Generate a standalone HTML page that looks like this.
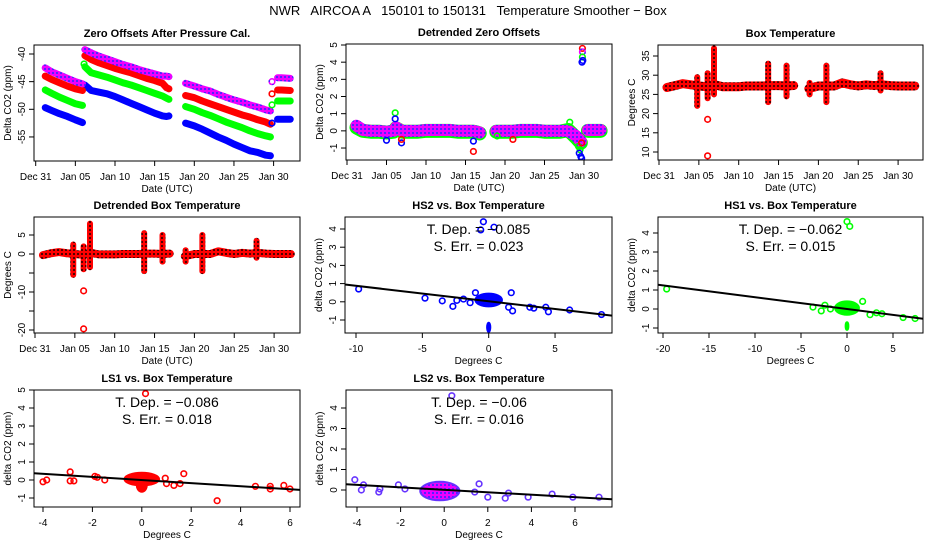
<!DOCTYPE html>
<html><head><meta charset="utf-8"><style>
html,body{margin:0;padding:0;background:#fff}
svg{display:block;font-family:"Liberation Sans",Arial,sans-serif}
</style></head><body>
<svg id="chart" width="936" height="540" viewBox="0 0 936 540" xmlns="http://www.w3.org/2000/svg">
<defs>
<pattern id="patPurple" width="4" height="4" patternUnits="userSpaceOnUse"><rect width="4" height="4" fill="#ee00ff"/><rect width="2" height="2" fill="#5522ff"/></pattern>
<pattern id="patRed" width="4" height="4" patternUnits="userSpaceOnUse"><rect width="4" height="4" fill="#ff0000"/><rect x="1" y="1" width="2" height="2" fill="#550000"/></pattern>
</defs>
<text x="468" y="15" text-anchor="middle" font-size="13" style="white-space:pre" xml:space="preserve">NWR   AIRCOA A   150101 to 150131   Temperature Smoother − Box</text>
</svg>
<script>
// ---- shared time segments (days since Dec 31) ----
const tSeg1=[1.2,2,3,4,5,5.9];
const tSeg2=[6.2,7,8,9,10,11,12,13,14,15,16,16.5,16.8];
const tSeg3=[18.9,20,21,22,23,24,25,26,27,28,29,29.6];
const tSeg4=[30.5,31,32.1];
// ---- panel 1: zero offsets ----
const purple1=[[-42.5,-43.2,-43.8,-44.4,-45,-45.4],[-39.2,-39.8,-40.4,-40.9,-41.4,-41.9,-42.3,-42.8,-43.2,-43.6,-44,-44,-44.1],[-45.3,-45.8,-46.3,-46.7,-47.3,-47.8,-48.3,-48.7,-49.2,-49.6,-50.1,-50.3],[-44.3,-44.3,-44.4]];
const red1=[[-44,-44.6,-45.2,-45.8,-46.3,-46.6],[-40.3,-41,-41.6,-42.1,-42.6,-43,-43.4,-43.9,-44.4,-44.8,-45.3,-46.1,-46.3],[-47.5,-47.9,-48.5,-49,-49.5,-50,-50.5,-51,-51.4,-51.9,-52.3,-52.7],[-46.5,-46.5,-46.6]];
const green1=[[-46.5,-47.1,-47.8,-48.4,-49,-49.3],[-42.3,-43.4,-43.8,-44.2,-44.7,-45.2,-45.6,-46.1,-46.6,-47.1,-47.6,-48,-48.2],[-49.5,-50,-50.6,-51.1,-51.7,-52.3,-52.8,-53.3,-53.9,-54.4,-54.8,-55],[-48.5,-48.5,-48.5]];
const blue1=[[-49.7,-50.2,-50.8,-51.3,-51.9,-52.4],[-45.6,-46.6,-46.9,-47.2,-47.7,-48.3,-48.9,-49.5,-50.1,-50.7,-51.2,-51.3,-51.2],[-52.5,-53,-53.6,-54.3,-55,-55.6,-56.3,-56.9,-57.5,-57.8,-58.3,-58.4],[-51.8,-51.8,-51.8]];
const p1Extra=[[29.8,-45,'purple'],[29.8,-47.2,'red'],[29.8,-49.2,'green'],[29.8,-52.5,'blue'],[6.1,-41.8,'green']];
// ---- panel 2: detrended zero offsets ----
const purple2=[[0.3,0.05,0,0,-0.05,0],[0.2,0,0,0,0.05,0.05,0.05,0.05,0,0,0,-0.05,-0.1],[0,0,0,0.05,0.05,0.05,0,0,0,0,-0.3,-0.6],[0.05,0.05,0.05]];
const green2=[[0.2,0,-0.05,-0.05,-0.1,-0.05],[0.15,-0.05,-0.05,-0.05,0,0,0,0,-0.05,-0.05,-0.05,-0.1,-0.15],[-0.05,-0.05,-0.05,0,0,0,-0.05,-0.05,-0.05,0.05,-0.4,-0.7],[0,0,0]];
const p2Out=[[6.1,1.05,'green'],[6.1,0.7,'blue'],[6.9,-0.7,'blue'],[6.9,-0.5,'red'],[5,-0.55,'blue'],[16,-1.2,'red'],[16,-0.6,'blue'],[21,-0.5,'red'],[19,-0.3,'green'],[28.2,0.5,'green'],[29.3,-0.9,'green'],[29.5,-1.1,'green'],[29.4,-1.3,'blue'],[29.6,-1.5,'blue'],[29.7,-1.6,'blue'],[29.7,-0.7,'red'],[29.8,4.8,'red'],[29.8,4.6,'purple'],[29.8,4.3,'green'],[29.75,4.0,'blue'],[29.85,4.1,'blue']];
// ---- panel 3: box temperature ----
const tBandA=[1,2,3,4,5,6,7,8,9,10,11,12,13,14,15,16,16.9];
const tBandB=[18.8,20,21,22,23,24,25,26,27,28,29,30,31,32.1];
const box3A=[26.8,27.3,27.8,27.5,27.2,27,27.5,27,27,27,27.2,27.2,27.2,27.3,27.3,27.2,27.3];
const box3B=[26.5,27.2,27.2,27.2,28,27.5,27.2,27.5,27.3,27.5,27.3,27.2,27.2,27.2];
const spike3=[[4.8,22,29.5],[6.1,24,30.5],[6.9,25,37],[13.7,23,33],[16,24.5,32.5],[18.9,25,28],[21,23,32.5],[27.8,26,30.5]];
const pts3=[[6.1,18.5],[6.1,9]];
// ---- panel 4: detrended box temperature ----
const box4A=[-0.3,0.2,0.5,0.2,0,-0.2,0.3,-0.1,-0.1,-0.1,0,0,0,0.1,0.1,0,0.1];
const box4B=[-0.6,0,0,0,0.7,0.3,0,0.3,0.1,0.3,0.1,0,0,0];
const spike4=[[4.8,-5.5,2.5],[6.1,-4,2],[6.9,-3.5,8],[13.7,-4.5,5.5],[16,-2,5],[18.9,-2,1],[21,-4.5,5],[27.8,-1,3.5]];
const pts4=[[6.1,-9.7],[6.1,-19.7]];
// ---- scatter panels ----
const hs2Pts=[[-9.8,0.7],[-4.8,0.2],[-3.5,0.05],[-2.7,-0.25],[-2.4,0.08],[-1.9,0.15],[-1.4,-0.05],[-1,0.5],[1.5,-0.3],[1.7,0.5],[1.8,-0.5],[3.1,-0.3],[3.4,-0.35],[4.3,-0.3],[4.5,-0.55],[6.1,-0.45],[8.5,-0.7],[-0.6,3.95],[-0.4,4.4],[0.4,4.1]];
const hs2Blobs=[[0,0.1,1.0,0.35],[0,-1.4,0.12,0.25]];
const hs2Fit=[-0.085,0.03];
const hs1Pts=[[-19.6,1.05],[-3.7,0.1],[-2.8,-0.1],[-2.4,0.2],[-1.8,0],[1.7,0.4],[2.5,-0.3],[3.2,-0.2],[3.8,-0.25],[6.1,-0.45],[7.4,-0.5],[0,4.6],[0.3,4.35]];
const hs1Blobs=[[0,0.05,1.3,0.35],[0,-0.9,0.15,0.2]];
const hs1Fit=[-0.062,0.0];
const ls1Pts=[[-4,-0.1],[-3.85,0],[-2.9,0.45],[-2.9,-0.05],[-2.75,-0.05],[-1.9,0.2],[-1.8,0.15],[-1.5,0],[1.7,0.35],[0.95,0.1],[1,-0.2],[1.3,-0.3],[1.55,-0.2],[3.05,-1.15],[4.6,-0.35],[5.2,-0.35],[5.2,-0.5],[5.75,-0.3],[6,-0.5],[0.15,4.8]];
const ls1Blobs=[[0,0.05,0.7,0.35],[0,-0.3,0.2,0.35]];
const ls1Fit=[-0.086,0.0];
const ls2Pts=[[-4.1,0.5],[-3.8,0],[-3.7,0.25],[-3,-0.1],[-2.95,0.05],[-2.1,0.25],[-1.8,0.05],[1.4,-0.1],[1.6,0.3],[2,-0.35],[2.8,-0.4],[2.95,-0.15],[3.85,-0.35],[4.95,-0.2],[5.9,-0.35],[7.1,-0.35],[0.35,4.6]];
const ls2Blobs=[[-0.2,-0.05,0.9,0.45]];
const ls2Fit=[-0.06,0.01];
const dayTicks=[0,5,10,15,20,25,30];
const dayLabels=['Dec 31','Jan 05','Jan 10','Jan 15','Jan 20','Jan 25','Jan 30'];

const NS='http://www.w3.org/2000/svg';
const svg=document.getElementById('chart');
const COL={purple:'url(#patPurple)',red:'#ff0000',green:'#00ff00',blue:'#0000ff'};
function mk(tag,attrs,parent){const e=document.createElementNS(NS,tag);for(const k in attrs)e.setAttribute(k,attrs[k]);(parent||svg).appendChild(e);return e;}

function panel(o){
  const g=mk('g',{});
  
  
  const [x0,y0,x1,y1]=o.box;
  const t=mk('text',{x:(x0+x1)/2,y:y0-8,'text-anchor':'middle','font-size':'11','font-weight':'bold'},g);
  t.textContent=o.title;
  
  
  const xa=mk('g',{},g);
  
  
  const xp=o.xt.map(o.xs);
  mk('line',{x1:xp[0],x2:xp[xp.length-1],y1:y1,y2:y1,stroke:'#000'},xa);
  o.xt.forEach((v,i)=>{const X=o.xs(v);mk('line',{x1:X,x2:X,y1:y1,y2:y1+5,stroke:'#000'},xa);
    const l=mk('text',{x:X,y:y1+19,'text-anchor':'middle','font-size':'10'},xa);l.textContent=o.xl[i];
    
    });
  const xt=mk('text',{x:(x0+x1)/2,y:y1+31,'text-anchor':'middle','font-size':'10'},g);xt.textContent=o.xlab;
  
  
  const ya=mk('g',{},g);
  
  
  const yp=o.yt.map(o.ys);
  mk('line',{x1:x0,x2:x0,y1:yp[0],y2:yp[yp.length-1],stroke:'#000'},ya);
  o.yt.forEach((v,i)=>{const Y=o.ys(v);mk('line',{x1:x0-5,x2:x0,y1:Y,y2:Y,stroke:'#000'},ya);
    if(o.yl[i]!==''){const l=mk('text',{x:x0-9,y:Y,'text-anchor':'middle','font-size':'10',transform:`rotate(-90 ${x0-9} ${Y})`},ya);l.textContent=o.yl[i];
    
    }});
  const yt=mk('text',{x:x0-23,y:(y0+y1)/2,'text-anchor':'middle','font-size':'10',transform:`rotate(-90 ${x0-23} ${(y0+y1)/2})`},g);yt.textContent=o.ylab;
  
  
  const clipId='c'+o.name;
  const cp=mk('clipPath',{id:clipId},g);mk('rect',{x:x0,y:y0,width:x1-x0,height:y1-y0},cp);
  const plot=mk('g',{'clip-path':`url(#${clipId})`},g);
  
  
  const b=mk('rect',{x:x0,y:y0,width:x1-x0,height:y1-y0,fill:'none',stroke:'#000'},g);
  
  
  return plot;
}
function band(plot,ts,vs,xs,ys,stroke,w,name){
  const p=mk('polyline',{points:ts.map((t,i)=>xs(t)+','+ys(vs[i])).join(' '),fill:'none',stroke:stroke,'stroke-width':w,'stroke-linejoin':'round','stroke-linecap':'round'},plot);
  
  
}
function pt(plot,x,y,c,name){
  const e=mk('circle',{cx:x,cy:y,r:2.8,fill:'none',stroke:COL[c]||c,'stroke-width':1.6},plot);
  
  
}
const SEG=[tSeg1,tSeg2,tSeg3,tSeg4];

// Panel 1
{const xs=d=>35.7+d*7.93, ys=v=>54+(-40-v)*5.53;
 const p=panel({name:'zero-offsets-panel',box:[34,45,300,161],xs,ys,xt:dayTicks,xl:dayLabels,yt:[-55,-50,-45,-40],yl:['-55','-50','-45','-40'],title:'Zero Offsets After Pressure Cal.',xlab:'Date (UTC)',ylab:'Delta CO2 (ppm)'});
 [[blue1,'blue'],[green1,'green'],[red1,'red'],[purple1,'purple']].forEach(([arr,c])=>arr.forEach((s,i)=>band(p,SEG[i],s,xs,ys,COL[c],7,c+'-offset-series')));
 p1Extra.forEach(e=>pt(p,xs(e[0]),ys(e[1]),e[2],'offset-point'));}
// Panel 2
{const xs=d=>347+d*7.9, ys=v=>45+(5-v)*17.17;
 const p=panel({name:'detrended-offsets-panel',box:[346,44,612,160],xs,ys,xt:dayTicks,xl:dayLabels,yt:[-1,0,1,2,3,4,5],yl:['-1','0','1','2','3','4','5'],title:'Detrended Zero Offsets',xlab:'Date (UTC)',ylab:'Delta CO2 (ppm)'});
 green2.forEach((s,i)=>band(p,SEG[i],s,xs,ys,'#00ff00',14,'green-detrended-series'));
 purple2.forEach((s,i)=>band(p,SEG[i],s,xs,ys,'url(#patPurple)',12,'purple-detrended-series'));
 p2Out.forEach(e=>pt(p,xs(e[0]),ys(e[1]),e[2],'detrended-point'));}
// Panel 3
{const xs=d=>659+d*7.97, ys=v=>56+(35-v)*3.84;
 const p=panel({name:'box-temperature-panel',box:[658,45,923,160],xs,ys,xt:dayTicks,xl:dayLabels,yt:[10,15,20,25,30,35],yl:['10','15','20','25','30','35'],title:'Box Temperature',xlab:'Date (UTC)',ylab:'Degrees C'});
 band(p,tBandA,box3A,xs,ys,'url(#patRed)',9,'box-temp-series');band(p,tBandB,box3B,xs,ys,'url(#patRed)',9,'box-temp-series');
 spike3.forEach(s=>{const l=mk('line',{x1:xs(s[0]),x2:xs(s[0]),y1:ys(s[1]),y2:ys(s[2]),stroke:'url(#patRed)','stroke-width':6,'stroke-linecap':'round'},p);
   
   });
 pts3.forEach(e=>pt(p,xs(e[0]),ys(e[1]),'red','temp-outlier'));}
// Panel 4
{const xs=d=>35+d*7.97, ys=v=>235+(5-v)*3.8;
 const p=panel({name:'detrended-box-temperature-panel',box:[34,217,300,333],xs,ys,xt:dayTicks,xl:dayLabels,yt:[-20,-15,-10,-5,0,5],yl:['-20','','-10','','0','5'],title:'Detrended Box Temperature',xlab:'Date (UTC)',ylab:'Degrees C'});
 band(p,tBandA,box4A,xs,ys,'url(#patRed)',8,'detrended-temp-series');band(p,tBandB,box4B,xs,ys,'url(#patRed)',8,'detrended-temp-series');
 spike4.forEach(s=>{const l=mk('line',{x1:xs(s[0]),x2:xs(s[0]),y1:ys(s[1]),y2:ys(s[2]),stroke:'url(#patRed)','stroke-width':6,'stroke-linecap':'round'},p);
   
   });
 pts4.forEach(e=>pt(p,xs(e[0]),ys(e[1]),'red','temp-outlier'));}
// Scatter panels
function scatter(o){
  const p=panel(o);
  o.blobs.forEach(b=>{const e=mk('ellipse',{cx:o.xs(b[0]),cy:o.ys(b[1]),rx:Math.abs(o.xs(b[2])-o.xs(0)),ry:Math.abs(o.ys(b[3])-o.ys(0)),fill:o.fill,stroke:o.color,'stroke-width':2},p);
    
    });
  o.pts.forEach(e=>pt(p,o.xs(e[0]),o.ys(e[1]),o.color,'scatter-point'));
  const [m,c]=o.fit, xa=o.xr[0], xb=o.xr[1];
  const l=mk('line',{x1:o.xs(xa),y1:o.ys(m*xa+c),x2:o.xs(xb),y2:o.ys(m*xb+c),stroke:'#000','stroke-width':2},p);
  
  
  const [x0,y0,x1]=o.box, cx=(x0+x1)/2;
  const a=mk('text',{x:cx,y:y0+17,'text-anchor':'middle','font-size':'14'});a.textContent='T. Dep. =  '+o.dep;
  
  
  const b=mk('text',{x:cx,y:y0+34,'text-anchor':'middle','font-size':'14'});b.textContent='S. Err. =  '+o.err;
  
  
}
scatter({name:'hs2-scatter-panel',box:[345,217,612,333],xs:v=>488.7+v*13.27,ys:v=>301.8-v*18.2,xt:[-10,-5,0,5],xl:['-10','-5','0','5'],yt:[-1,0,1,2,3,4],yl:['-1','0','1','2','3','4'],title:'HS2 vs. Box Temperature',xlab:'Degrees C',ylab:'delta CO2 (ppm)',pts:hs2Pts,blobs:hs2Blobs,fit:hs2Fit,xr:[-11,10],color:'#0000ff',fill:'#0000ff',dep:'−0.085',err:'0.023'});
scatter({name:'hs1-scatter-panel',box:[658,217,923,333],xs:v=>847+v*9.2,ys:v=>309-v*19,xt:[-20,-15,-10,-5,0,5],xl:['-20','-15','-10','-5','0','5'],yt:[-1,0,1,2,3,4],yl:['-1','0','1','2','3','4'],title:'HS1 vs. Box Temperature',xlab:'Degrees C',ylab:'delta CO2 (ppm)',pts:hs1Pts,blobs:hs1Blobs,fit:hs1Fit,xr:[-21,9],color:'#00ff00',fill:'#00ff00',dep:'−0.062',err:'0.015'});
scatter({name:'ls1-scatter-panel',box:[34,390,300,507],xs:v=>141.8+v*24.7,ys:v=>480-v*18,xt:[-4,-2,0,2,4,6],xl:['-4','-2','0','2','4','6'],yt:[-1,0,1,2,3,4,5],yl:['-1','0','1','2','3','4','5'],title:'LS1 vs. Box Temperature',xlab:'Degrees C',ylab:'delta CO2 (ppm)',pts:ls1Pts,blobs:ls1Blobs,fit:ls1Fit,xr:[-4.5,7],color:'#ff0000',fill:'#ff0000',dep:'−0.086',err:'0.018'});
scatter({name:'ls2-scatter-panel',box:[346,390,612,507],xs:v=>444.2+v*21.8,ys:v=>490-v*20.5,xt:[-4,-2,0,2,4,6],xl:['-4','-2','0','2','4','6'],yt:[0,1,2,3,4],yl:['0','1','2','3','4'],title:'LS2 vs. Box Temperature',xlab:'Degrees C',ylab:'delta CO2 (ppm)',pts:ls2Pts,blobs:ls2Blobs,fit:ls2Fit,xr:[-4.5,8],color:'#6633ff',fill:'url(#patPurple)',dep:'−0.06',err:'0.016'});
</script>
</body></html>
